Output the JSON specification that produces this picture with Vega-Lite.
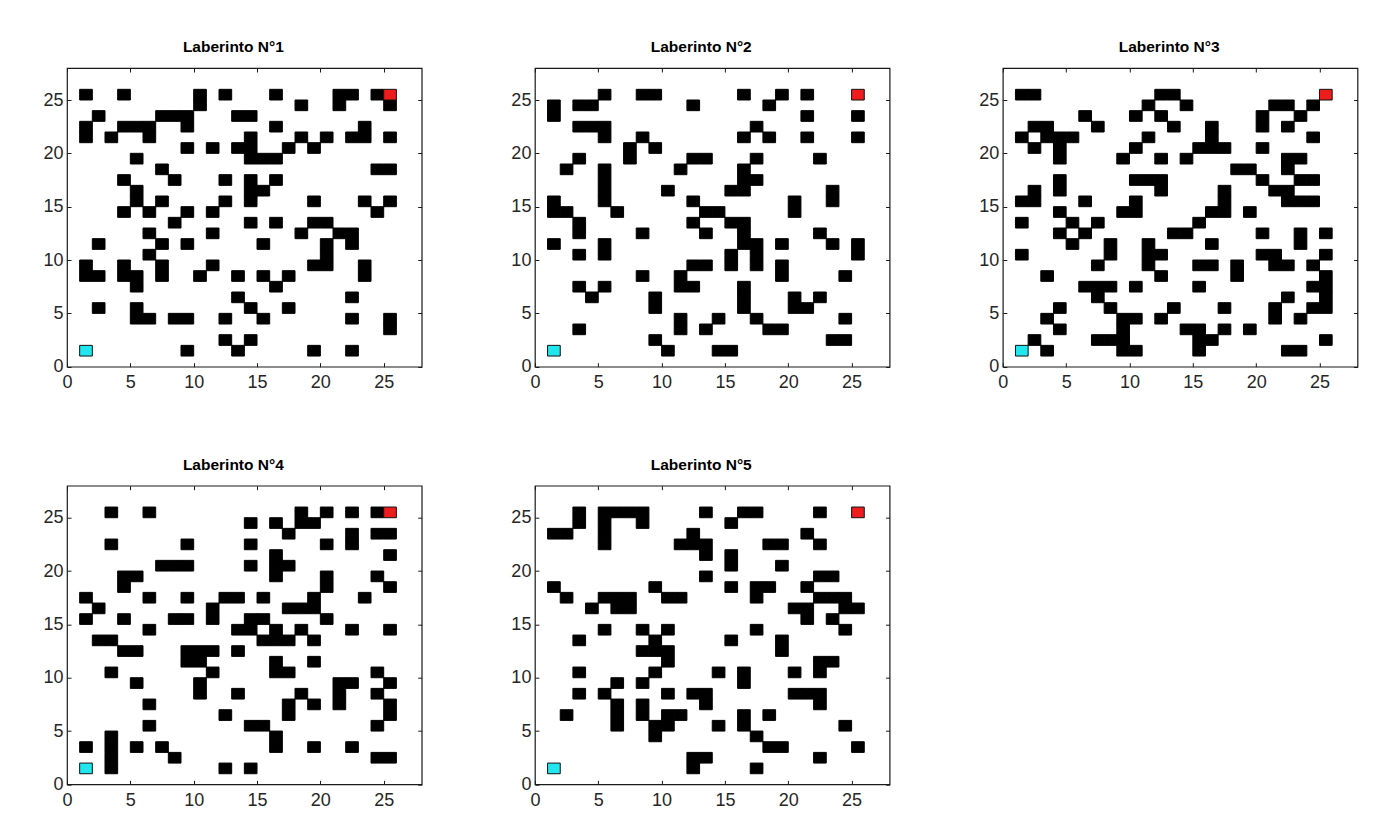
{
 "$schema": "https://vega.github.io/schema/vega-lite/v6.json",
 "background": "white",
 "padding": {"left": 42, "top": 39, "right": 10, "bottom": 10},
 "columns": 3,
 "spacing": {"row": 118.7, "column": 112.9},
 "bounds": "flush",
 "datasets": {
  "ends": [{"x":1.5,"y":1.5,"k":"inicio"},{"x":25.5,"y":25.5,"k":"meta"}],
  "m1": [
   {"x":1.5,"y":25.5},{"x":4.5,"y":25.5},{"x":10.5,"y":25.5},{"x":12.5,"y":25.5},{"x":16.5,"y":25.5},{"x":21.5,"y":25.5},{"x":22.5,"y":25.5},{"x":24.5,"y":25.5},
   {"x":10.5,"y":24.5},{"x":18.5,"y":24.5},{"x":21.5,"y":24.5},{"x":25.5,"y":24.5},
   {"x":2.5,"y":23.5},{"x":7.5,"y":23.5},{"x":8.5,"y":23.5},{"x":9.5,"y":23.5},{"x":13.5,"y":23.5},{"x":14.5,"y":23.5},
   {"x":1.5,"y":22.5},{"x":4.5,"y":22.5},{"x":5.5,"y":22.5},{"x":6.5,"y":22.5},{"x":9.5,"y":22.5},{"x":16.5,"y":22.5},{"x":23.5,"y":22.5},
   {"x":1.5,"y":21.5},{"x":3.5,"y":21.5},{"x":6.5,"y":21.5},{"x":14.5,"y":21.5},{"x":18.5,"y":21.5},{"x":20.5,"y":21.5},{"x":22.5,"y":21.5},{"x":23.5,"y":21.5},{"x":25.5,"y":21.5},
   {"x":9.5,"y":20.5},{"x":11.5,"y":20.5},{"x":13.5,"y":20.5},{"x":14.5,"y":20.5},{"x":17.5,"y":20.5},{"x":19.5,"y":20.5},
   {"x":5.5,"y":19.5},{"x":14.5,"y":19.5},{"x":15.5,"y":19.5},{"x":16.5,"y":19.5},
   {"x":7.5,"y":18.5},{"x":24.5,"y":18.5},{"x":25.5,"y":18.5},
   {"x":4.5,"y":17.5},{"x":8.5,"y":17.5},{"x":12.5,"y":17.5},{"x":14.5,"y":17.5},{"x":16.5,"y":17.5},
   {"x":5.5,"y":16.5},{"x":14.5,"y":16.5},{"x":15.5,"y":16.5},
   {"x":5.5,"y":15.5},{"x":7.5,"y":15.5},{"x":12.5,"y":15.5},{"x":14.5,"y":15.5},{"x":19.5,"y":15.5},{"x":23.5,"y":15.5},{"x":25.5,"y":15.5},
   {"x":4.5,"y":14.5},{"x":6.5,"y":14.5},{"x":9.5,"y":14.5},{"x":11.5,"y":14.5},{"x":24.5,"y":14.5},
   {"x":8.5,"y":13.5},{"x":14.5,"y":13.5},{"x":16.5,"y":13.5},{"x":19.5,"y":13.5},{"x":20.5,"y":13.5},
   {"x":6.5,"y":12.5},{"x":11.5,"y":12.5},{"x":18.5,"y":12.5},{"x":21.5,"y":12.5},{"x":22.5,"y":12.5},
   {"x":2.5,"y":11.5},{"x":7.5,"y":11.5},{"x":9.5,"y":11.5},{"x":15.5,"y":11.5},{"x":20.5,"y":11.5},{"x":22.5,"y":11.5},
   {"x":6.5,"y":10.5},{"x":20.5,"y":10.5},
   {"x":1.5,"y":9.5},{"x":4.5,"y":9.5},{"x":7.5,"y":9.5},{"x":11.5,"y":9.5},{"x":19.5,"y":9.5},{"x":20.5,"y":9.5},{"x":23.5,"y":9.5},
   {"x":1.5,"y":8.5},{"x":2.5,"y":8.5},{"x":4.5,"y":8.5},{"x":5.5,"y":8.5},{"x":7.5,"y":8.5},{"x":10.5,"y":8.5},{"x":13.5,"y":8.5},{"x":15.5,"y":8.5},{"x":17.5,"y":8.5},{"x":23.5,"y":8.5},
   {"x":5.5,"y":7.5},{"x":16.5,"y":7.5},
   {"x":13.5,"y":6.5},{"x":22.5,"y":6.5},
   {"x":2.5,"y":5.5},{"x":5.5,"y":5.5},{"x":14.5,"y":5.5},{"x":17.5,"y":5.5},
   {"x":5.5,"y":4.5},{"x":6.5,"y":4.5},{"x":8.5,"y":4.5},{"x":9.5,"y":4.5},{"x":12.5,"y":4.5},{"x":15.5,"y":4.5},{"x":22.5,"y":4.5},{"x":25.5,"y":4.5},
   {"x":25.5,"y":3.5},
   {"x":12.5,"y":2.5},{"x":14.5,"y":2.5},
   {"x":9.5,"y":1.5},{"x":13.5,"y":1.5},{"x":19.5,"y":1.5},{"x":22.5,"y":1.5}
  ],
  "m2": [
   {"x":5.5,"y":25.5},{"x":8.5,"y":25.5},{"x":9.5,"y":25.5},{"x":16.5,"y":25.5},{"x":19.5,"y":25.5},{"x":21.5,"y":25.5},
   {"x":1.5,"y":24.5},{"x":3.5,"y":24.5},{"x":4.5,"y":24.5},{"x":12.5,"y":24.5},{"x":18.5,"y":24.5},
   {"x":1.5,"y":23.5},{"x":21.5,"y":23.5},{"x":25.5,"y":23.5},
   {"x":3.5,"y":22.5},{"x":4.5,"y":22.5},{"x":5.5,"y":22.5},{"x":17.5,"y":22.5},
   {"x":5.5,"y":21.5},{"x":8.5,"y":21.5},{"x":16.5,"y":21.5},{"x":18.5,"y":21.5},{"x":21.5,"y":21.5},{"x":25.5,"y":21.5},
   {"x":7.5,"y":20.5},{"x":9.5,"y":20.5},
   {"x":3.5,"y":19.5},{"x":7.5,"y":19.5},{"x":12.5,"y":19.5},{"x":13.5,"y":19.5},{"x":17.5,"y":19.5},{"x":22.5,"y":19.5},
   {"x":2.5,"y":18.5},{"x":5.5,"y":18.5},{"x":11.5,"y":18.5},{"x":16.5,"y":18.5},
   {"x":5.5,"y":17.5},{"x":16.5,"y":17.5},{"x":17.5,"y":17.5},
   {"x":5.5,"y":16.5},{"x":10.5,"y":16.5},{"x":15.5,"y":16.5},{"x":16.5,"y":16.5},{"x":23.5,"y":16.5},
   {"x":1.5,"y":15.5},{"x":5.5,"y":15.5},{"x":12.5,"y":15.5},{"x":20.5,"y":15.5},{"x":23.5,"y":15.5},
   {"x":1.5,"y":14.5},{"x":2.5,"y":14.5},{"x":6.5,"y":14.5},{"x":13.5,"y":14.5},{"x":14.5,"y":14.5},{"x":20.5,"y":14.5},
   {"x":3.5,"y":13.5},{"x":12.5,"y":13.5},{"x":15.5,"y":13.5},{"x":16.5,"y":13.5},
   {"x":3.5,"y":12.5},{"x":8.5,"y":12.5},{"x":13.5,"y":12.5},{"x":16.5,"y":12.5},{"x":22.5,"y":12.5},
   {"x":1.5,"y":11.5},{"x":5.5,"y":11.5},{"x":16.5,"y":11.5},{"x":17.5,"y":11.5},{"x":19.5,"y":11.5},{"x":23.5,"y":11.5},{"x":25.5,"y":11.5},
   {"x":3.5,"y":10.5},{"x":5.5,"y":10.5},{"x":15.5,"y":10.5},{"x":17.5,"y":10.5},{"x":25.5,"y":10.5},
   {"x":12.5,"y":9.5},{"x":13.5,"y":9.5},{"x":15.5,"y":9.5},{"x":17.5,"y":9.5},{"x":19.5,"y":9.5},
   {"x":8.5,"y":8.5},{"x":11.5,"y":8.5},{"x":19.5,"y":8.5},{"x":24.5,"y":8.5},
   {"x":3.5,"y":7.5},{"x":5.5,"y":7.5},{"x":11.5,"y":7.5},{"x":12.5,"y":7.5},{"x":16.5,"y":7.5},
   {"x":4.5,"y":6.5},{"x":9.5,"y":6.5},{"x":16.5,"y":6.5},{"x":20.5,"y":6.5},{"x":22.5,"y":6.5},
   {"x":9.5,"y":5.5},{"x":16.5,"y":5.5},{"x":20.5,"y":5.5},{"x":21.5,"y":5.5},
   {"x":11.5,"y":4.5},{"x":14.5,"y":4.5},{"x":17.5,"y":4.5},{"x":24.5,"y":4.5},
   {"x":3.5,"y":3.5},{"x":11.5,"y":3.5},{"x":13.5,"y":3.5},{"x":18.5,"y":3.5},{"x":19.5,"y":3.5},
   {"x":9.5,"y":2.5},{"x":23.5,"y":2.5},{"x":24.5,"y":2.5},
   {"x":10.5,"y":1.5},{"x":14.5,"y":1.5},{"x":15.5,"y":1.5}
  ],
  "m3": [
   {"x":1.5,"y":25.5},{"x":2.5,"y":25.5},{"x":12.5,"y":25.5},{"x":13.5,"y":25.5},
   {"x":11.5,"y":24.5},{"x":14.5,"y":24.5},{"x":21.5,"y":24.5},{"x":22.5,"y":24.5},{"x":24.5,"y":24.5},
   {"x":6.5,"y":23.5},{"x":10.5,"y":23.5},{"x":12.5,"y":23.5},{"x":20.5,"y":23.5},{"x":23.5,"y":23.5},
   {"x":2.5,"y":22.5},{"x":3.5,"y":22.5},{"x":7.5,"y":22.5},{"x":13.5,"y":22.5},{"x":16.5,"y":22.5},{"x":20.5,"y":22.5},{"x":22.5,"y":22.5},
   {"x":1.5,"y":21.5},{"x":3.5,"y":21.5},{"x":4.5,"y":21.5},{"x":5.5,"y":21.5},{"x":11.5,"y":21.5},{"x":16.5,"y":21.5},{"x":24.5,"y":21.5},
   {"x":2.5,"y":20.5},{"x":4.5,"y":20.5},{"x":10.5,"y":20.5},{"x":15.5,"y":20.5},{"x":16.5,"y":20.5},{"x":17.5,"y":20.5},{"x":20.5,"y":20.5},
   {"x":4.5,"y":19.5},{"x":9.5,"y":19.5},{"x":12.5,"y":19.5},{"x":14.5,"y":19.5},{"x":22.5,"y":19.5},{"x":23.5,"y":19.5},
   {"x":18.5,"y":18.5},{"x":19.5,"y":18.5},{"x":22.5,"y":18.5},
   {"x":4.5,"y":17.5},{"x":10.5,"y":17.5},{"x":11.5,"y":17.5},{"x":12.5,"y":17.5},{"x":20.5,"y":17.5},{"x":23.5,"y":17.5},{"x":24.5,"y":17.5},
   {"x":2.5,"y":16.5},{"x":4.5,"y":16.5},{"x":12.5,"y":16.5},{"x":17.5,"y":16.5},{"x":21.5,"y":16.5},{"x":22.5,"y":16.5},
   {"x":1.5,"y":15.5},{"x":2.5,"y":15.5},{"x":6.5,"y":15.5},{"x":10.5,"y":15.5},{"x":17.5,"y":15.5},{"x":22.5,"y":15.5},{"x":23.5,"y":15.5},{"x":24.5,"y":15.5},
   {"x":4.5,"y":14.5},{"x":9.5,"y":14.5},{"x":10.5,"y":14.5},{"x":16.5,"y":14.5},{"x":17.5,"y":14.5},{"x":19.5,"y":14.5},
   {"x":1.5,"y":13.5},{"x":5.5,"y":13.5},{"x":7.5,"y":13.5},{"x":15.5,"y":13.5},
   {"x":4.5,"y":12.5},{"x":6.5,"y":12.5},{"x":13.5,"y":12.5},{"x":14.5,"y":12.5},{"x":20.5,"y":12.5},{"x":23.5,"y":12.5},{"x":25.5,"y":12.5},
   {"x":5.5,"y":11.5},{"x":8.5,"y":11.5},{"x":11.5,"y":11.5},{"x":16.5,"y":11.5},{"x":23.5,"y":11.5},
   {"x":1.5,"y":10.5},{"x":8.5,"y":10.5},{"x":11.5,"y":10.5},{"x":12.5,"y":10.5},{"x":20.5,"y":10.5},{"x":21.5,"y":10.5},{"x":25.5,"y":10.5},
   {"x":7.5,"y":9.5},{"x":11.5,"y":9.5},{"x":15.5,"y":9.5},{"x":16.5,"y":9.5},{"x":18.5,"y":9.5},{"x":21.5,"y":9.5},{"x":22.5,"y":9.5},{"x":24.5,"y":9.5},
   {"x":3.5,"y":8.5},{"x":12.5,"y":8.5},{"x":18.5,"y":8.5},{"x":25.5,"y":8.5},
   {"x":6.5,"y":7.5},{"x":7.5,"y":7.5},{"x":8.5,"y":7.5},{"x":10.5,"y":7.5},{"x":15.5,"y":7.5},{"x":24.5,"y":7.5},{"x":25.5,"y":7.5},
   {"x":7.5,"y":6.5},{"x":22.5,"y":6.5},{"x":25.5,"y":6.5},
   {"x":4.5,"y":5.5},{"x":8.5,"y":5.5},{"x":13.5,"y":5.5},{"x":17.5,"y":5.5},{"x":21.5,"y":5.5},{"x":24.5,"y":5.5},{"x":25.5,"y":5.5},
   {"x":3.5,"y":4.5},{"x":9.5,"y":4.5},{"x":10.5,"y":4.5},{"x":12.5,"y":4.5},{"x":21.5,"y":4.5},{"x":23.5,"y":4.5},
   {"x":4.5,"y":3.5},{"x":9.5,"y":3.5},{"x":14.5,"y":3.5},{"x":15.5,"y":3.5},{"x":17.5,"y":3.5},{"x":19.5,"y":3.5},
   {"x":2.5,"y":2.5},{"x":7.5,"y":2.5},{"x":8.5,"y":2.5},{"x":9.5,"y":2.5},{"x":15.5,"y":2.5},{"x":16.5,"y":2.5},{"x":25.5,"y":2.5},
   {"x":3.5,"y":1.5},{"x":9.5,"y":1.5},{"x":10.5,"y":1.5},{"x":15.5,"y":1.5},{"x":22.5,"y":1.5},{"x":23.5,"y":1.5}
  ],
  "m4": [
   {"x":3.5,"y":25.5},{"x":6.5,"y":25.5},{"x":18.5,"y":25.5},{"x":20.5,"y":25.5},{"x":22.5,"y":25.5},{"x":24.5,"y":25.5},
   {"x":14.5,"y":24.5},{"x":16.5,"y":24.5},{"x":18.5,"y":24.5},{"x":19.5,"y":24.5},
   {"x":17.5,"y":23.5},{"x":22.5,"y":23.5},{"x":24.5,"y":23.5},{"x":25.5,"y":23.5},
   {"x":3.5,"y":22.5},{"x":9.5,"y":22.5},{"x":14.5,"y":22.5},{"x":20.5,"y":22.5},{"x":22.5,"y":22.5},
   {"x":16.5,"y":21.5},{"x":25.5,"y":21.5},
   {"x":7.5,"y":20.5},{"x":8.5,"y":20.5},{"x":9.5,"y":20.5},{"x":14.5,"y":20.5},{"x":16.5,"y":20.5},{"x":17.5,"y":20.5},
   {"x":4.5,"y":19.5},{"x":5.5,"y":19.5},{"x":16.5,"y":19.5},{"x":20.5,"y":19.5},{"x":24.5,"y":19.5},
   {"x":4.5,"y":18.5},{"x":20.5,"y":18.5},{"x":25.5,"y":18.5},
   {"x":1.5,"y":17.5},{"x":6.5,"y":17.5},{"x":9.5,"y":17.5},{"x":12.5,"y":17.5},{"x":13.5,"y":17.5},{"x":15.5,"y":17.5},{"x":19.5,"y":17.5},{"x":23.5,"y":17.5},
   {"x":2.5,"y":16.5},{"x":11.5,"y":16.5},{"x":17.5,"y":16.5},{"x":18.5,"y":16.5},{"x":19.5,"y":16.5},
   {"x":1.5,"y":15.5},{"x":4.5,"y":15.5},{"x":8.5,"y":15.5},{"x":9.5,"y":15.5},{"x":11.5,"y":15.5},{"x":14.5,"y":15.5},{"x":15.5,"y":15.5},{"x":20.5,"y":15.5},
   {"x":6.5,"y":14.5},{"x":13.5,"y":14.5},{"x":14.5,"y":14.5},{"x":16.5,"y":14.5},{"x":18.5,"y":14.5},{"x":22.5,"y":14.5},{"x":25.5,"y":14.5},
   {"x":2.5,"y":13.5},{"x":3.5,"y":13.5},{"x":15.5,"y":13.5},{"x":16.5,"y":13.5},{"x":17.5,"y":13.5},{"x":19.5,"y":13.5},
   {"x":4.5,"y":12.5},{"x":5.5,"y":12.5},{"x":9.5,"y":12.5},{"x":10.5,"y":12.5},{"x":11.5,"y":12.5},{"x":13.5,"y":12.5},
   {"x":9.5,"y":11.5},{"x":10.5,"y":11.5},{"x":16.5,"y":11.5},{"x":19.5,"y":11.5},
   {"x":3.5,"y":10.5},{"x":11.5,"y":10.5},{"x":16.5,"y":10.5},{"x":17.5,"y":10.5},{"x":24.5,"y":10.5},
   {"x":5.5,"y":9.5},{"x":10.5,"y":9.5},{"x":21.5,"y":9.5},{"x":22.5,"y":9.5},{"x":25.5,"y":9.5},
   {"x":10.5,"y":8.5},{"x":13.5,"y":8.5},{"x":18.5,"y":8.5},{"x":21.5,"y":8.5},{"x":24.5,"y":8.5},
   {"x":6.5,"y":7.5},{"x":17.5,"y":7.5},{"x":19.5,"y":7.5},{"x":21.5,"y":7.5},{"x":25.5,"y":7.5},
   {"x":12.5,"y":6.5},{"x":17.5,"y":6.5},{"x":25.5,"y":6.5},
   {"x":6.5,"y":5.5},{"x":14.5,"y":5.5},{"x":15.5,"y":5.5},{"x":24.5,"y":5.5},
   {"x":3.5,"y":4.5},{"x":16.5,"y":4.5},
   {"x":1.5,"y":3.5},{"x":3.5,"y":3.5},{"x":5.5,"y":3.5},{"x":7.5,"y":3.5},{"x":16.5,"y":3.5},{"x":19.5,"y":3.5},{"x":22.5,"y":3.5},
   {"x":3.5,"y":2.5},{"x":8.5,"y":2.5},{"x":24.5,"y":2.5},{"x":25.5,"y":2.5},
   {"x":3.5,"y":1.5},{"x":12.5,"y":1.5},{"x":14.5,"y":1.5}
  ],
  "m5": [
   {"x":3.5,"y":25.5},{"x":5.5,"y":25.5},{"x":6.5,"y":25.5},{"x":7.5,"y":25.5},{"x":8.5,"y":25.5},{"x":13.5,"y":25.5},{"x":16.5,"y":25.5},{"x":17.5,"y":25.5},{"x":22.5,"y":25.5},
   {"x":3.5,"y":24.5},{"x":5.5,"y":24.5},{"x":8.5,"y":24.5},{"x":15.5,"y":24.5},
   {"x":1.5,"y":23.5},{"x":2.5,"y":23.5},{"x":5.5,"y":23.5},{"x":12.5,"y":23.5},{"x":21.5,"y":23.5},
   {"x":5.5,"y":22.5},{"x":11.5,"y":22.5},{"x":12.5,"y":22.5},{"x":13.5,"y":22.5},{"x":18.5,"y":22.5},{"x":19.5,"y":22.5},{"x":22.5,"y":22.5},
   {"x":13.5,"y":21.5},{"x":15.5,"y":21.5},
   {"x":15.5,"y":20.5},{"x":19.5,"y":20.5},
   {"x":13.5,"y":19.5},{"x":22.5,"y":19.5},{"x":23.5,"y":19.5},
   {"x":1.5,"y":18.5},{"x":9.5,"y":18.5},{"x":15.5,"y":18.5},{"x":17.5,"y":18.5},{"x":18.5,"y":18.5},{"x":21.5,"y":18.5},
   {"x":2.5,"y":17.5},{"x":5.5,"y":17.5},{"x":6.5,"y":17.5},{"x":7.5,"y":17.5},{"x":10.5,"y":17.5},{"x":11.5,"y":17.5},{"x":17.5,"y":17.5},{"x":22.5,"y":17.5},{"x":23.5,"y":17.5},{"x":24.5,"y":17.5},
   {"x":4.5,"y":16.5},{"x":6.5,"y":16.5},{"x":7.5,"y":16.5},{"x":20.5,"y":16.5},{"x":21.5,"y":16.5},{"x":24.5,"y":16.5},{"x":25.5,"y":16.5},
   {"x":21.5,"y":15.5},{"x":23.5,"y":15.5},
   {"x":5.5,"y":14.5},{"x":8.5,"y":14.5},{"x":10.5,"y":14.5},{"x":17.5,"y":14.5},{"x":24.5,"y":14.5},
   {"x":3.5,"y":13.5},{"x":9.5,"y":13.5},{"x":15.5,"y":13.5},{"x":19.5,"y":13.5},
   {"x":8.5,"y":12.5},{"x":9.5,"y":12.5},{"x":10.5,"y":12.5},{"x":19.5,"y":12.5},
   {"x":10.5,"y":11.5},{"x":22.5,"y":11.5},{"x":23.5,"y":11.5},
   {"x":3.5,"y":10.5},{"x":9.5,"y":10.5},{"x":14.5,"y":10.5},{"x":16.5,"y":10.5},{"x":20.5,"y":10.5},{"x":22.5,"y":10.5},
   {"x":6.5,"y":9.5},{"x":8.5,"y":9.5},{"x":16.5,"y":9.5},
   {"x":3.5,"y":8.5},{"x":5.5,"y":8.5},{"x":10.5,"y":8.5},{"x":12.5,"y":8.5},{"x":13.5,"y":8.5},{"x":20.5,"y":8.5},{"x":21.5,"y":8.5},{"x":22.5,"y":8.5},
   {"x":6.5,"y":7.5},{"x":8.5,"y":7.5},{"x":13.5,"y":7.5},{"x":22.5,"y":7.5},
   {"x":2.5,"y":6.5},{"x":6.5,"y":6.5},{"x":8.5,"y":6.5},{"x":10.5,"y":6.5},{"x":11.5,"y":6.5},{"x":16.5,"y":6.5},{"x":18.5,"y":6.5},
   {"x":6.5,"y":5.5},{"x":9.5,"y":5.5},{"x":10.5,"y":5.5},{"x":14.5,"y":5.5},{"x":16.5,"y":5.5},{"x":24.5,"y":5.5},
   {"x":9.5,"y":4.5},{"x":17.5,"y":4.5},
   {"x":18.5,"y":3.5},{"x":19.5,"y":3.5},{"x":25.5,"y":3.5},
   {"x":12.5,"y":2.5},{"x":13.5,"y":2.5},{"x":22.5,"y":2.5},
   {"x":12.5,"y":1.5},{"x":17.5,"y":1.5}
  ]
 },
 "concat": [
  {"title": "Laberinto N°1", "width": 354.7, "height": 298.7, "resolve": {"axis": {"x": "independent", "y": "independent"}},
   "layer": [
    {"data": {"name": "m1"}, "mark": {"type": "point", "shape": "M-1,-0.842H1V0.842H-1Z", "filled": true, "size": 160.5, "color": "#000", "opacity": 1, "stroke": "#000", "strokeWidth": 1},
     "encoding": {"x": {"field": "x", "type": "quantitative", "scale": {"domain": [0, 28], "nice": false}, "axis": {"orient": "bottom", "values": [0, 5, 10, 15, 20, 25]}, "title": null},
                  "y": {"field": "y", "type": "quantitative", "scale": {"domain": [0, 28], "nice": false}, "axis": {"orient": "left", "values": [0, 5, 10, 15, 20, 25]}, "title": null}}},
    {"data": {"name": "ends"}, "mark": {"type": "point", "shape": "M-1,-0.842H1V0.842H-1Z", "filled": true, "size": 160.5, "opacity": 1, "stroke": "#111", "strokeWidth": 1},
     "encoding": {"x": {"field": "x", "type": "quantitative", "axis": {"orient": "top", "labels": false, "values": [0, 5, 10, 15, 20, 25]}, "title": null},
                  "y": {"field": "y", "type": "quantitative", "axis": {"orient": "right", "labels": false, "values": [0, 5, 10, 15, 20, 25]}, "title": null},
                  "fill": {"field": "k", "type": "nominal", "scale": {"domain": ["inicio", "meta"], "range": ["#22e6ee", "#ee1c1c"]}, "legend": null}}}
   ]},
  {"title": "Laberinto N°2", "width": 354.7, "height": 298.7, "resolve": {"axis": {"x": "independent", "y": "independent"}},
   "layer": [
    {"data": {"name": "m2"}, "mark": {"type": "point", "shape": "M-1,-0.842H1V0.842H-1Z", "filled": true, "size": 160.5, "color": "#000", "opacity": 1, "stroke": "#000", "strokeWidth": 1},
     "encoding": {"x": {"field": "x", "type": "quantitative", "scale": {"domain": [0, 28], "nice": false}, "axis": {"orient": "bottom", "values": [0, 5, 10, 15, 20, 25]}, "title": null},
                  "y": {"field": "y", "type": "quantitative", "scale": {"domain": [0, 28], "nice": false}, "axis": {"orient": "left", "values": [0, 5, 10, 15, 20, 25]}, "title": null}}},
    {"data": {"name": "ends"}, "mark": {"type": "point", "shape": "M-1,-0.842H1V0.842H-1Z", "filled": true, "size": 160.5, "opacity": 1, "stroke": "#111", "strokeWidth": 1},
     "encoding": {"x": {"field": "x", "type": "quantitative", "axis": {"orient": "top", "labels": false, "values": [0, 5, 10, 15, 20, 25]}, "title": null},
                  "y": {"field": "y", "type": "quantitative", "axis": {"orient": "right", "labels": false, "values": [0, 5, 10, 15, 20, 25]}, "title": null},
                  "fill": {"field": "k", "type": "nominal", "scale": {"domain": ["inicio", "meta"], "range": ["#22e6ee", "#ee1c1c"]}, "legend": null}}}
   ]},
  {"title": "Laberinto N°3", "width": 354.7, "height": 298.7, "resolve": {"axis": {"x": "independent", "y": "independent"}},
   "layer": [
    {"data": {"name": "m3"}, "mark": {"type": "point", "shape": "M-1,-0.842H1V0.842H-1Z", "filled": true, "size": 160.5, "color": "#000", "opacity": 1, "stroke": "#000", "strokeWidth": 1},
     "encoding": {"x": {"field": "x", "type": "quantitative", "scale": {"domain": [0, 28], "nice": false}, "axis": {"orient": "bottom", "values": [0, 5, 10, 15, 20, 25]}, "title": null},
                  "y": {"field": "y", "type": "quantitative", "scale": {"domain": [0, 28], "nice": false}, "axis": {"orient": "left", "values": [0, 5, 10, 15, 20, 25]}, "title": null}}},
    {"data": {"name": "ends"}, "mark": {"type": "point", "shape": "M-1,-0.842H1V0.842H-1Z", "filled": true, "size": 160.5, "opacity": 1, "stroke": "#111", "strokeWidth": 1},
     "encoding": {"x": {"field": "x", "type": "quantitative", "axis": {"orient": "top", "labels": false, "values": [0, 5, 10, 15, 20, 25]}, "title": null},
                  "y": {"field": "y", "type": "quantitative", "axis": {"orient": "right", "labels": false, "values": [0, 5, 10, 15, 20, 25]}, "title": null},
                  "fill": {"field": "k", "type": "nominal", "scale": {"domain": ["inicio", "meta"], "range": ["#22e6ee", "#ee1c1c"]}, "legend": null}}}
   ]},
  {"title": "Laberinto N°4", "width": 354.7, "height": 298.7, "resolve": {"axis": {"x": "independent", "y": "independent"}},
   "layer": [
    {"data": {"name": "m4"}, "mark": {"type": "point", "shape": "M-1,-0.842H1V0.842H-1Z", "filled": true, "size": 160.5, "color": "#000", "opacity": 1, "stroke": "#000", "strokeWidth": 1},
     "encoding": {"x": {"field": "x", "type": "quantitative", "scale": {"domain": [0, 28], "nice": false}, "axis": {"orient": "bottom", "values": [0, 5, 10, 15, 20, 25]}, "title": null},
                  "y": {"field": "y", "type": "quantitative", "scale": {"domain": [0, 28], "nice": false}, "axis": {"orient": "left", "values": [0, 5, 10, 15, 20, 25]}, "title": null}}},
    {"data": {"name": "ends"}, "mark": {"type": "point", "shape": "M-1,-0.842H1V0.842H-1Z", "filled": true, "size": 160.5, "opacity": 1, "stroke": "#111", "strokeWidth": 1},
     "encoding": {"x": {"field": "x", "type": "quantitative", "axis": {"orient": "top", "labels": false, "values": [0, 5, 10, 15, 20, 25]}, "title": null},
                  "y": {"field": "y", "type": "quantitative", "axis": {"orient": "right", "labels": false, "values": [0, 5, 10, 15, 20, 25]}, "title": null},
                  "fill": {"field": "k", "type": "nominal", "scale": {"domain": ["inicio", "meta"], "range": ["#22e6ee", "#ee1c1c"]}, "legend": null}}}
   ]},
  {"title": "Laberinto N°5", "width": 354.7, "height": 298.7, "resolve": {"axis": {"x": "independent", "y": "independent"}},
   "layer": [
    {"data": {"name": "m5"}, "mark": {"type": "point", "shape": "M-1,-0.842H1V0.842H-1Z", "filled": true, "size": 160.5, "color": "#000", "opacity": 1, "stroke": "#000", "strokeWidth": 1},
     "encoding": {"x": {"field": "x", "type": "quantitative", "scale": {"domain": [0, 28], "nice": false}, "axis": {"orient": "bottom", "values": [0, 5, 10, 15, 20, 25]}, "title": null},
                  "y": {"field": "y", "type": "quantitative", "scale": {"domain": [0, 28], "nice": false}, "axis": {"orient": "left", "values": [0, 5, 10, 15, 20, 25]}, "title": null}}},
    {"data": {"name": "ends"}, "mark": {"type": "point", "shape": "M-1,-0.842H1V0.842H-1Z", "filled": true, "size": 160.5, "opacity": 1, "stroke": "#111", "strokeWidth": 1},
     "encoding": {"x": {"field": "x", "type": "quantitative", "axis": {"orient": "top", "labels": false, "values": [0, 5, 10, 15, 20, 25]}, "title": null},
                  "y": {"field": "y", "type": "quantitative", "axis": {"orient": "right", "labels": false, "values": [0, 5, 10, 15, 20, 25]}, "title": null},
                  "fill": {"field": "k", "type": "nominal", "scale": {"domain": ["inicio", "meta"], "range": ["#22e6ee", "#ee1c1c"]}, "legend": null}}}
   ]}
 ],
 "config": {
  "view": {"stroke": "#1a1a1a", "strokeWidth": 1.2},
  "axis": {"domain": false, "grid": false, "ticks": true, "tickColor": "#1a1a1a", "tickSize": -4, "tickWidth": 1,
           "labelFont": "Liberation Sans", "labelFontSize": 18, "labelColor": "#262626",
           "labelFlush": false, "labelOverlap": false},
  "axisX": {"labelPadding": 11},
  "axisY": {"labelPadding": 8},
  "title": {"font": "Liberation Sans", "fontSize": 15.5, "fontWeight": "bold", "color": "#000", "offset": 12, "anchor": "middle", "dx": -11}
 }
}
